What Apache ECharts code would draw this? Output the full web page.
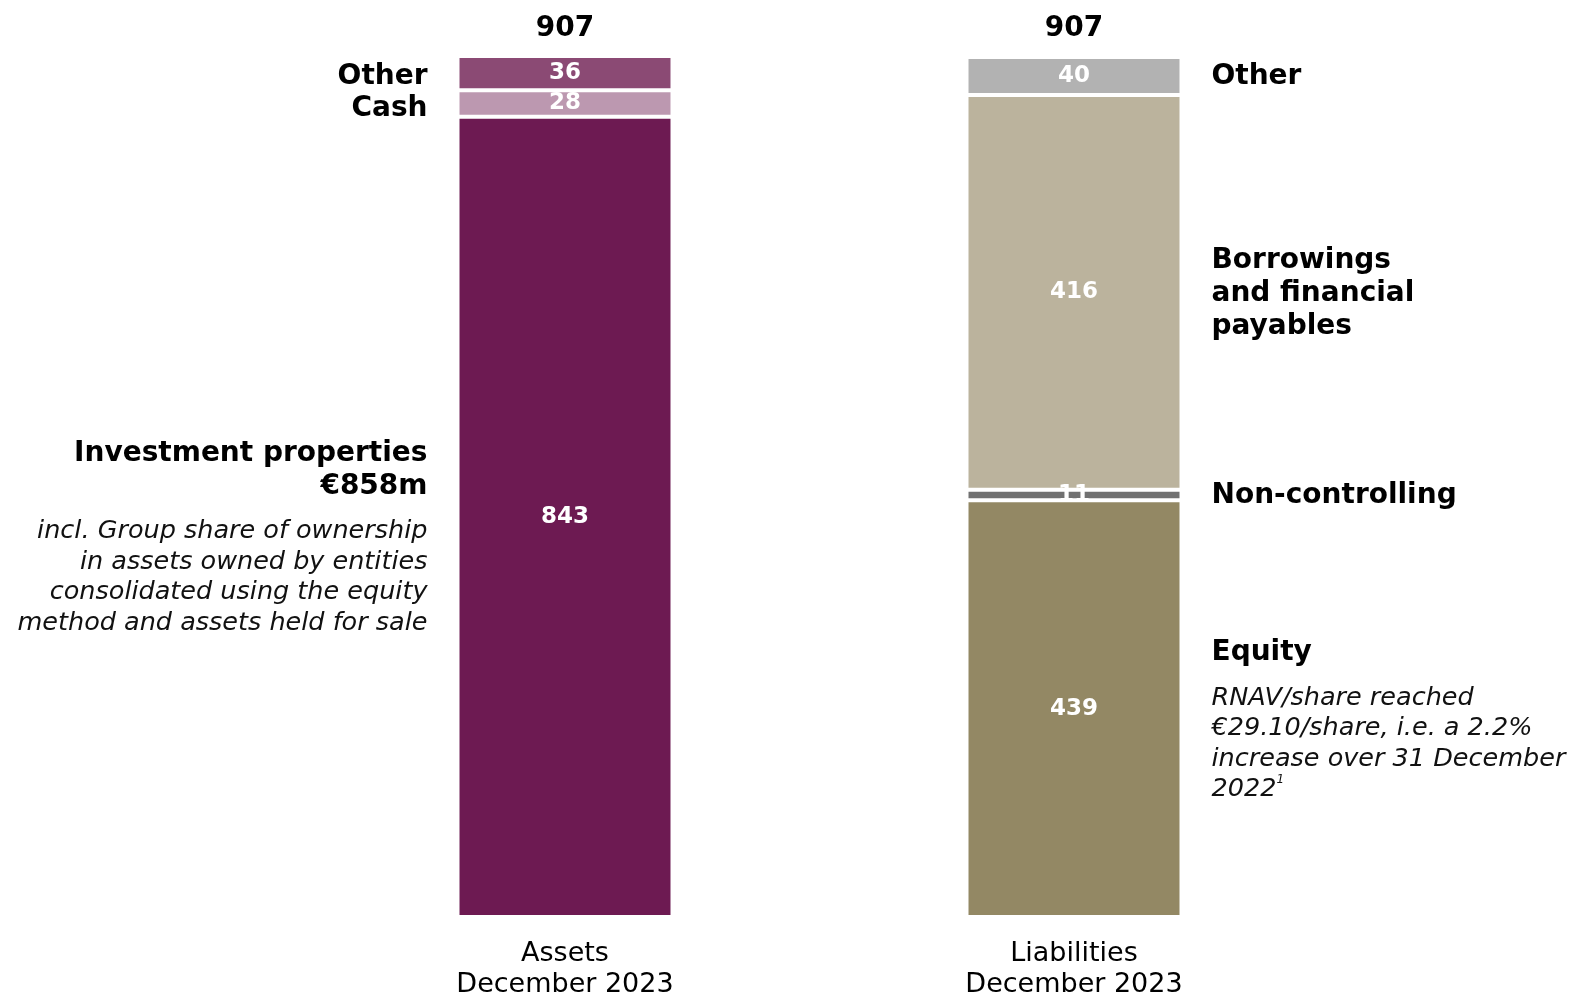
<!DOCTYPE html>
<html>
<head>
<meta charset="utf-8">
<script src="https://cdn.jsdelivr.net/npm/echarts@6/dist/echarts.min.js"></script>
<style>
  html, body { margin: 0; padding: 0; background: #ffffff; }
  #chart { width: 1573px; height: 1000px; }
</style>
</head>
<body>
<div id="chart"></div>
<script>
// Balance sheet, December 2023 (EUR m)
const categories = ['Assets\nDecember 2023', 'Liabilities\nDecember 2023'];
const totals = [907, 907];

// Assets side, bottom to top
const assetNames = ['Investment properties', 'Cash', 'Other'];
const assetValues = [843, 28, 36];
const assetColors = ['#6D1A52', '#BC98B0', '#8B4A74'];
const assetNotes = [
  '{h|Investment properties}\n{h|€858m}\n{g| }\n{i|incl. Group share of ownership}\n{i|in assets owned by entities}\n{i|consolidated using the equity}\n{i|method and assets held for sale}',
  '{h|Cash}',
  '{h|Other}'
];

// Liabilities side, bottom to top
const liabilityNames = ['Equity', 'Non-controlling', 'Borrowings and financial payables', 'Other'];
const liabilityValues = [439, 11, 416, 40];
const liabilityColors = ['#938864', '#717171', '#BBB39D', '#B2B2B2'];
const liabilityNotes = [
  '{h|Equity}\n{g| }\n{i|RNAV/share reached}\n{i|€29.10/share, i.e. a 2.2%}\n{i|increase over 31 December}\n{i|2022}{s|1}',
  '{h|Non-controlling}',
  '{h|Borrowings}\n{h|and financial}\n{h|payables}',
  '{h|Other}'
];

const FONT = '"DejaVu Sans", sans-serif';
const BAR_WIDTH = 215;

function richStyles(align) {
  return {
    h: { fontFamily: FONT, fontWeight: 'bold', fontSize: 28, lineHeight: 33, color: '#000', align: align },
    g: { fontSize: 10, lineHeight: 13, align: align },
    i: { fontFamily: FONT, fontStyle: 'italic', fontSize: 25.5, lineHeight: 30.5, color: '#111', align: align },
    s: { fontFamily: FONT, fontStyle: 'italic', fontSize: 12, lineHeight: 30.5, color: '#111', verticalAlign: 'top', padding: [0, 0, 10, 0] }
  };
}

const series = [];

// visible stacked segments
function addSegments(names, values, colors, col) {
  names.forEach((name, i) => {
    const data = [null, null];
    data[col] = values[i];
    series.push({
      name: name,
      type: 'bar',
      stack: 'balance',
      barWidth: BAR_WIDTH,
      barGap: '-100%',
      data: data,
      itemStyle: { color: colors[i], borderColor: '#ffffff', borderWidth: 2 },
      label: {
        show: true,
        position: 'inside',
        fontFamily: FONT,
        fontWeight: 'bold',
        fontSize: 23,
        color: '#ffffff'
      },
      z: 2
    });
  });
}

// transparent twin stack carrying the side captions
function addCaptions(names, values, notes, offsets, col, side) {
  names.forEach((name, i) => {
    const data = [null, null];
    data[col] = values[i];
    series.push({
      name: name + ' caption',
      type: 'bar',
      stack: 'captions',
      barWidth: BAR_WIDTH,
      barGap: '-100%',
      silent: true,
      data: data,
      itemStyle: { color: 'rgba(0,0,0,0)' },
      label: {
        show: true,
        position: side,
        distance: 30,
        offset: [0, offsets[i]],
        formatter: () => notes[i],
        rich: richStyles(side === 'left' ? 'right' : 'left')
      },
      z: 1
    });
  });
}

addSegments(assetNames, assetValues, assetColors, 0);
addSegments(liabilityNames, liabilityValues, liabilityColors, 1);
addCaptions(assetNames, assetValues, assetNotes, [21, 5, 4], 0, 'left');
addCaptions(liabilityNames, liabilityValues, liabilityNotes, [12, 1, 1, 1], 1, 'right');

// totals above each column
series.push({
  name: 'Total',
  type: 'bar',
  barWidth: BAR_WIDTH,
  barGap: '-100%',
  silent: true,
  data: totals,
  itemStyle: { color: 'rgba(0,0,0,0)' },
  label: {
    show: true,
    position: 'top',
    distance: 13,
    fontFamily: FONT,
    fontWeight: 'bold',
    fontSize: 28,
    color: '#000'
  },
  z: 0
});

const chart = echarts.init(document.getElementById('chart'), null, { renderer: 'canvas' });
chart.setOption({
  animation: false,
  backgroundColor: '#ffffff',
  grid: { left: 310.5, right: 244.5, top: 56, bottom: 80, containLabel: false },
  xAxis: {
    type: 'category',
    data: categories,
    axisLine: { show: false },
    axisTick: { show: false },
    axisLabel: {
      fontFamily: FONT,
      fontSize: 27,
      lineHeight: 31,
      color: '#000',
      margin: 21
    }
  },
  yAxis: {
    type: 'value',
    min: 0,
    max: 907,
    show: false,
    splitLine: { show: false }
  },
  series: series
});
</script>
</body>
</html>
